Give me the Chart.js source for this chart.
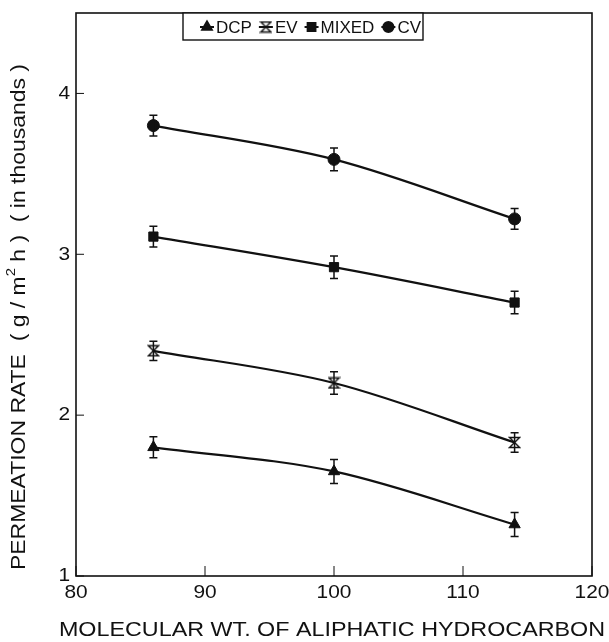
<!DOCTYPE html>
<html>
<head>
<meta charset="utf-8">
<script src="https://cdn.jsdelivr.net/npm/chart.js@4.4.1/dist/chart.umd.min.js"></script>
<style>
  html, body { margin: 0; padding: 0; background: #fff; }
  canvas { display: block; }
</style>
</head>
<body>
<canvas id="chart" width="609" height="642"></canvas>
<script>
// molecular weight of the hydrocarbons
const molWt = [86, 100, 114];

// permeation rate (thousands g/m2 h)
const dcp = [1.80, 1.65, 1.32];
const ev = [2.40, 2.20, 1.83];
const mixed = [3.11, 2.92, 2.70];
const cv = [3.80, 3.59, 3.22];

// error bar half heights
const dcpErr = [0.065, 0.075, 0.075];
const evErr = [0.06, 0.07, 0.06];
const mixedErr = [0.065, 0.07, 0.07];
const cvErr = [0.065, 0.07, 0.065];

const xTicks = [80, 90, 100, 110, 120];
const yTicks = [1, 2, 3, 4];
const xTitle = "MOLECULAR WT. OF ALIPHATIC HYDROCARBON";
const legendNames = ["DCP", "EV", "MIXED", "CV"];

const FONT = '"Liberation Sans", Arial, sans-serif';
const INK = "#111";

// open hourglass marker used for EV
function hourglass(size) {
  const c = document.createElement("canvas");
  c.width = size;
  c.height = size;
  const g = c.getContext("2d");
  const m = 1.5;
  g.strokeStyle = INK;
  g.lineWidth = 1.4;
  g.beginPath();
  g.moveTo(m, m);
  g.lineTo(size - m, m);
  g.lineTo(m, size - m);
  g.lineTo(size - m, size - m);
  g.closePath();
  g.stroke();
  return c;
}
const evMarker = hourglass(13);

function pts(vals) {
  return vals.map((v, i) => ({ x: molWt[i], y: v }));
}

function makeSet(label, vals, errs, style, radius) {
  return {
    label: label,
    data: pts(vals),
    errs: errs,
    borderColor: INK,
    backgroundColor: INK,
    borderWidth: 2.2,
    pointStyle: style,
    pointRadius: radius,
    pointBackgroundColor: INK,
    pointBorderColor: INK,
    pointBorderWidth: 1,
    tension: 0.4,
    cubicInterpolationMode: "monotone",
    fill: false
  };
}

// draw text squeezed/stretched horizontally
function drawText(ctx, text, x, y, align, size, sx) {
  ctx.save();
  ctx.font = size + "px " + FONT;
  ctx.fillStyle = INK;
  ctx.textBaseline = "middle";
  const w = ctx.measureText(text).width * sx;
  let left = x;
  if (align === "center") left = x - w / 2;
  if (align === "right") left = x - w;
  ctx.translate(left, y);
  ctx.scale(sx, 1);
  ctx.textAlign = "left";
  ctx.fillText(text, 0, 0);
  ctx.restore();
  return w;
}

const decor = {
  id: "decor",
  afterDatasetsDraw(chart) {
    const ctx = chart.ctx;
    const a = chart.chartArea;
    const xs = chart.scales.x;
    const ys = chart.scales.y;

    // error bars
    ctx.save();
    ctx.strokeStyle = INK;
    ctx.lineWidth = 1.5;
    chart.data.datasets.forEach((ds) => {
      ds.data.forEach((p, i) => {
        const px = xs.getPixelForValue(p.x);
        const top = ys.getPixelForValue(p.y + ds.errs[i]);
        const bot = ys.getPixelForValue(p.y - ds.errs[i]);
        ctx.beginPath();
        ctx.moveTo(px, top);
        ctx.lineTo(px, bot);
        ctx.moveTo(px - 4, top);
        ctx.lineTo(px + 4, top);
        ctx.moveTo(px - 4, bot);
        ctx.lineTo(px + 4, bot);
        ctx.stroke();
      });
    });
    ctx.restore();

    // frame
    ctx.save();
    ctx.strokeStyle = INK;
    ctx.lineWidth = 1.6;
    ctx.strokeRect(a.left, a.top, a.right - a.left, a.bottom - a.top);

    // inward ticks
    ctx.lineWidth = 1;
    ctx.beginPath();
    yTicks.forEach((t) => {
      const py = ys.getPixelForValue(t);
      ctx.moveTo(a.left, py);
      ctx.lineTo(a.left + 8, py);
    });
    xTicks.forEach((t) => {
      const px = xs.getPixelForValue(t);
      ctx.moveTo(px, a.bottom);
      ctx.lineTo(px, a.bottom - 10);
    });
    ctx.stroke();
    ctx.restore();

    // tick labels
    yTicks.forEach((t) => {
      drawText(ctx, String(t), a.left - 6, ys.getPixelForValue(t), "right", 19, 1.1);
    });
    xTicks.forEach((t) => {
      drawText(ctx, String(t), xs.getPixelForValue(t), a.bottom + 17, "center", 19, 1.1);
    });

    // x title
    drawText(ctx, xTitle, (a.left + a.right) / 2 - 2, 630, "center", 21, 1.11);

    // y title (rotated, with superscript)
    ctx.save();
    ctx.translate(19, 317);
    ctx.rotate(-Math.PI / 2);
    const parts = [
      ["PERMEATION RATE  ( g / m", 20, 0],
      ["2", 13, -8],
      [" h )  ( in thousands )", 20, 0]
    ];
    let total = 0;
    parts.forEach((p) => {
      ctx.font = p[1] + "px " + FONT;
      total += ctx.measureText(p[0]).width;
    });
    const sx = 506 / total;
    let cx = -253;
    parts.forEach((p) => {
      const w = drawText(ctx, p[0], cx, p[2], "left", p[1], sx);
      cx += w;
    });
    ctx.restore();

    // legend box
    ctx.save();
    ctx.fillStyle = "#fff";
    ctx.fillRect(183, a.top, 240, 27);
    ctx.strokeStyle = INK;
    ctx.lineWidth = 1.4;
    ctx.strokeRect(183, a.top, 240, 27);
    ctx.restore();

    let lx = 200;
    const ly = a.top + 14;
    chart.data.datasets.forEach((ds, i) => {
      ctx.save();
      ctx.strokeStyle = INK;
      ctx.lineWidth = 2;
      ctx.beginPath();
      ctx.moveTo(lx, ly);
      ctx.lineTo(lx + 14, ly);
      ctx.stroke();
      ctx.fillStyle = INK;
      Chart.helpers.drawPoint(ctx, {
        pointStyle: ds.pointStyle,
        radius: ds.pointRadius * 0.85,
        borderWidth: 1,
        rotation: 0
      }, lx + 7, ly);
      ctx.restore();
      const w = drawText(ctx, legendNames[i], lx + 16, ly + 1, "left", 16.5, 1.03);
      lx = lx + 16 + w + 7;
    });
  }
};

new Chart(document.getElementById("chart"), {
  type: "line",
  data: {
    datasets: [
      makeSet("DCP", dcp, dcpErr, "triangle", 6.5),
      makeSet("EV", ev, evErr, evMarker, 6),
      makeSet("MIXED", mixed, mixedErr, "rect", 6.5),
      makeSet("CV", cv, cvErr, "circle", 6)
    ]
  },
  options: {
    responsive: false,
    devicePixelRatio: 1,
    animation: false,
    layout: { padding: { top: 13, right: 17, left: 0, bottom: 0 } },
    plugins: {
      legend: { display: false },
      tooltip: { enabled: false }
    },
    scales: {
      x: {
        type: "linear",
        min: 80,
        max: 120,
        ticks: { display: false, stepSize: 10 },
        grid: { display: false },
        border: { display: false },
        afterFit: (s) => { s.height = 66; }
      },
      y: {
        type: "linear",
        min: 1,
        max: 4.5,
        ticks: { display: false, stepSize: 1 },
        grid: { display: false },
        border: { display: false },
        afterFit: (s) => { s.width = 76; }
      }
    }
  },
  plugins: [decor]
});
</script>
</body>
</html>
